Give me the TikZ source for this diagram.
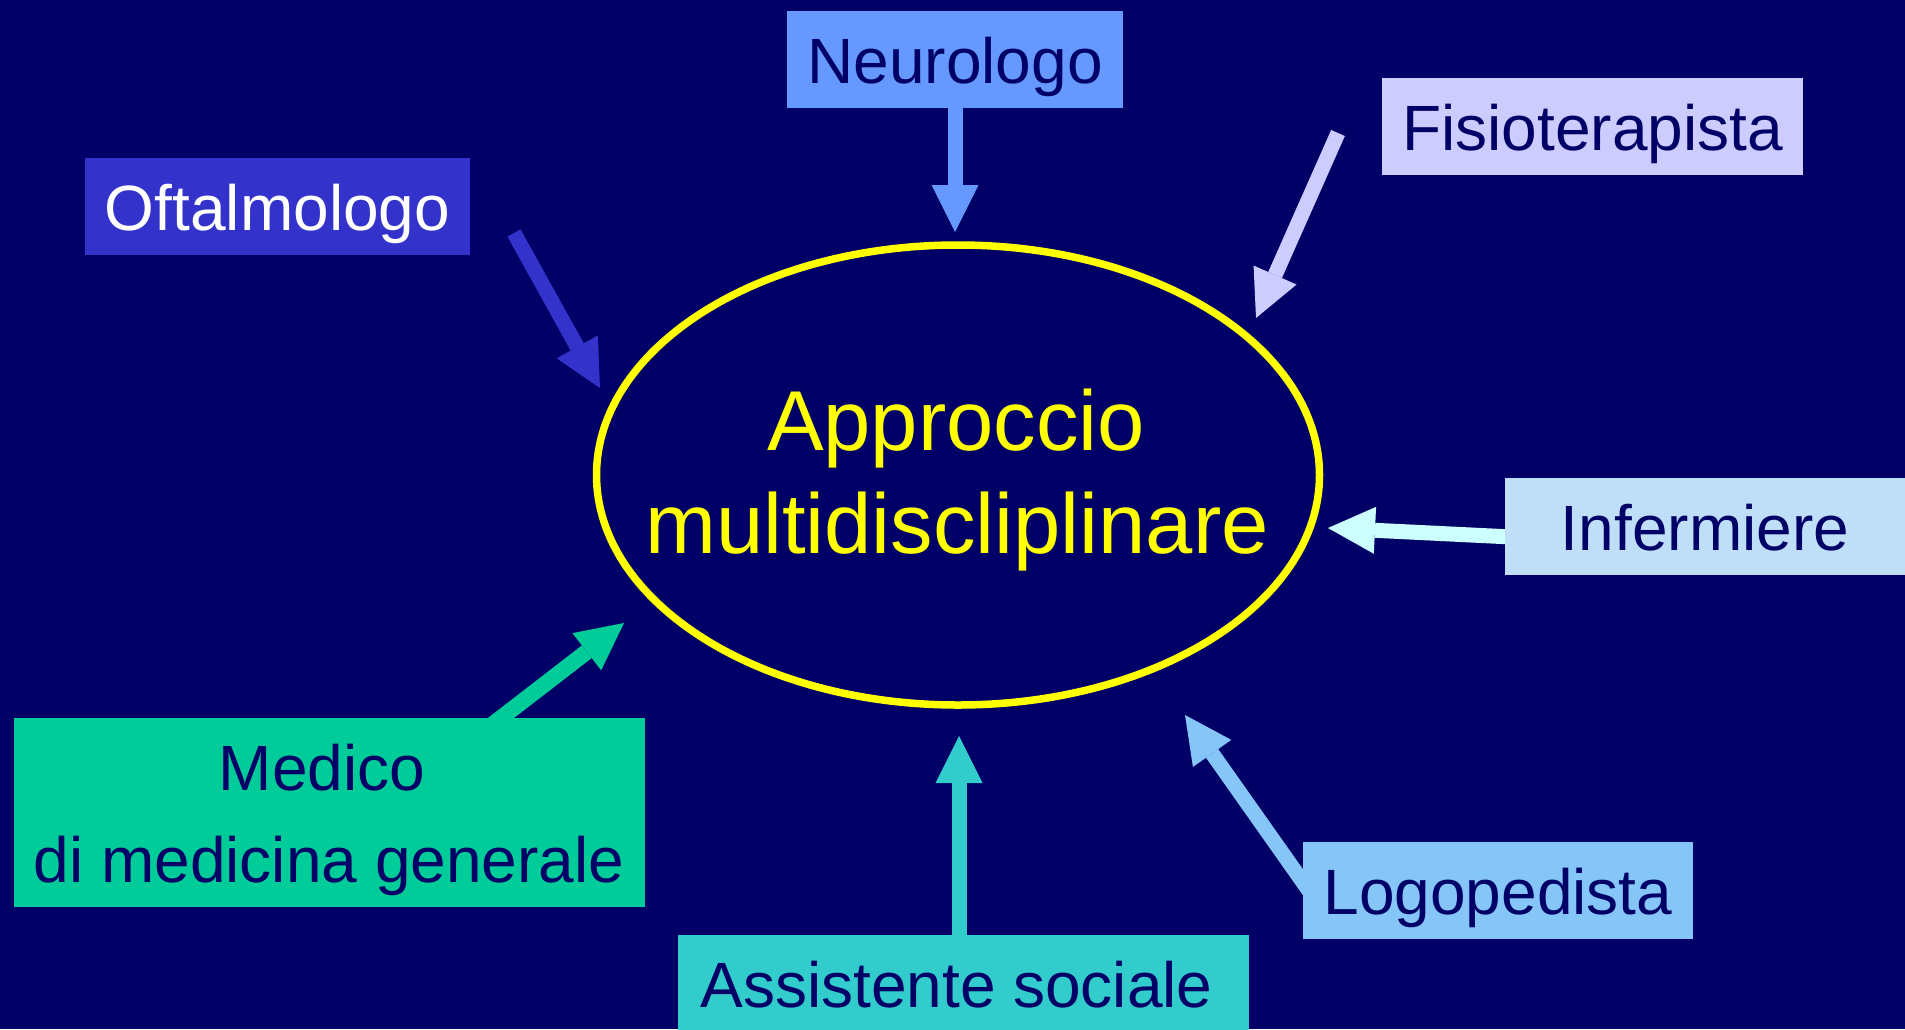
\documentclass[tikz,border=0pt]{standalone}
\usepackage{fontspec}
\setmainfont{Liberation Sans}
\usetikzlibrary{arrows.meta,shapes.geometric}
\pgfdeclarelayer{back}
\pgfdeclarelayer{bg}
\pgfsetlayers{back,bg,main}
\definecolor{navy}{HTML}{000066}
\definecolor{oftc}{HTML}{3333CC}
\definecolor{neuc}{HTML}{6699FF}
\definecolor{fisc}{HTML}{CCCCFF}
\definecolor{infc}{HTML}{BFDFF8}
\definecolor{infa}{HTML}{CCFFFF}
\definecolor{logc}{HTML}{85C5F8}
\definecolor{assc}{HTML}{33CCCC}
\definecolor{medc}{HTML}{00CC99}
\definecolor{ylw}{HTML}{FFFF00}
\begin{document}
\begin{tikzpicture}[x=1pt,y=-1pt,
  lbl/.style={rectangle, inner sep=0pt, font=\fontsize{64}{77}\selectfont,
    text height=62pt, text depth=15pt, minimum height=97pt, text=navy},
  txt/.style={inner sep=0pt, anchor=base, font=\fontsize{64}{77}\selectfont, text=navy},
  big/.style={inner sep=0pt, anchor=base, font=\fontsize{85}{102}\selectfont, text=ylw},
  arr/.style={line width=15pt, -{Triangle[length=47pt,width=47pt,line width=0pt]}}
]
\useasboundingbox (0,0) rectangle (1905,1029);
\begin{pgfonlayer}{back}
\fill[navy] (0,0) rectangle (1905,1029);
\end{pgfonlayer}

% central ellipse
\node[ellipse, draw=ylw, line width=7.5pt, minimum width=723pt, minimum height=460pt, inner sep=0pt] (app) at (958,475) {};
\node[big] (app1) at (956,450) {Approccio};
\node[big] (app2) at (957,553) {multidiscliplinare};

% label boxes
\node[lbl, fill=oftc, text=white, minimum width=385pt] (oft) at (277.5,206.5) {Oftalmologo};
\node[lbl, fill=neuc, minimum width=336pt] (neu) at (955,59.5) {Neurologo};
\node[lbl, fill=fisc, minimum width=421pt] (fis) at (1592.5,126.5) {Fisioterapista};
\node[lbl, fill=infc, minimum width=400pt] (inf) at (1705,526.5) {Infermiere};
\node[lbl, fill=logc, minimum width=390pt] (log) at (1498,890.5) {Logopedista};
\node[lbl, fill=assc, minimum width=571pt] (ass) at (963.5,983.5) {Assistente sociale\hspace*{14pt}};
\node[rectangle, inner sep=0pt, fill=medc, minimum width=631pt, minimum height=189pt] (med) at (329.5,812.5) {};
\node[txt] (med1) at (322,790) {Medico};
\node[txt] (med2) at (329,882) {di medicina generale};

% arrow end points
\coordinate (oftS) at (514,233);  \coordinate (oftT) at (600,388);
\coordinate (neuT) at (955,232);
\coordinate (fisS) at (1338,133); \coordinate (fisT) at (1256,318);
\coordinate (infS) at (1512,537); \coordinate (infT) at (1328,528);
\coordinate (logS) at (1312,895); \coordinate (logT) at (1185,715);
\coordinate (assS) at (959,945);  \coordinate (assT) at (959,736);
\coordinate (medS) at (488,728);  \coordinate (medT) at (624,623);

\begin{pgfonlayer}{bg}
\draw[arr, oftc] (oftS) -- (oftT);
\draw[arr, neuc] (neu.south) -- (neuT);
\draw[arr, fisc] (fisS) -- (fisT);
\draw[arr, infa] (infS) -- (infT);
\draw[arr, logc] (logS) -- (logT);
\draw[arr, assc] (assS) -- (assT);
\draw[arr, medc, line width=16pt] (medS) -- (medT);
\end{pgfonlayer}
\end{tikzpicture}
\end{document}
